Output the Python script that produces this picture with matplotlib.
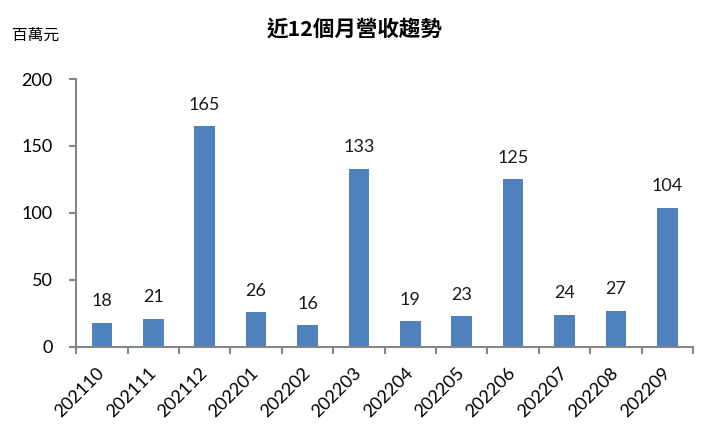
import matplotlib
matplotlib.use('Agg')
import matplotlib.pyplot as plt
import numpy as np

plt.rcParams['font.family'] = ['Lato', 'Noto Sans CJK TC', 'DejaVu Sans']

# monthly revenue, millions
months = ['202110', '202111', '202112', '202201', '202202', '202203',
          '202204', '202205', '202206', '202207', '202208', '202209']
revenue = [18, 21, 165, 26, 16, 133, 19, 23, 125, 24, 27, 104]

fig = plt.figure(figsize=(7.05, 4.25), dpi=100)
ax = fig.add_axes([0.108, 0.184, 0.875, 0.630])

x = np.arange(len(months))
bars = ax.bar(x, revenue, width=0.40, color='#4F81BD')

# value labels above bars
for xi, v in zip(x, revenue):
    ax.text(xi, v + 10, str(v), ha='center', va='bottom', fontsize=13, color='#1a1a1a')

ax.set_xlim(-0.5, len(months) - 0.5)
ax.set_ylim(0, 200)
ax.set_yticks([0, 50, 100, 150, 200])
ax.set_xticks(x)
ax.set_xticklabels(months, rotation=45, ha='right', va='center',
                   rotation_mode='anchor', fontsize=13)
ax.set_xticks(np.arange(-0.5, len(months)), minor=True)
ax.tick_params(axis='x', which='major', length=0, pad=17)
ax.tick_params(axis='x', which='minor', length=5, width=1.5, color='#868686')
ax.tick_params(axis='y', length=5, width=1.5, color='#868686', labelsize=13, pad=12)

for s in ['top', 'right']:
    ax.spines[s].set_visible(False)
for s in ['left', 'bottom']:
    ax.spines[s].set_color('#868686')
    ax.spines[s].set_linewidth(1.5)

fig.text(0.503, 0.932, '近12個月營收趨勢', ha='center', va='center',
         fontsize=15.5, fontweight='bold', family=['Noto Sans CJK TC', 'DejaVu Sans'])
fig.text(0.017, 0.916, '百萬元', ha='left', va='center', fontsize=11.3,
         family=['Noto Sans CJK TC', 'DejaVu Sans'])

fig.savefig('out.png', dpi=100)
